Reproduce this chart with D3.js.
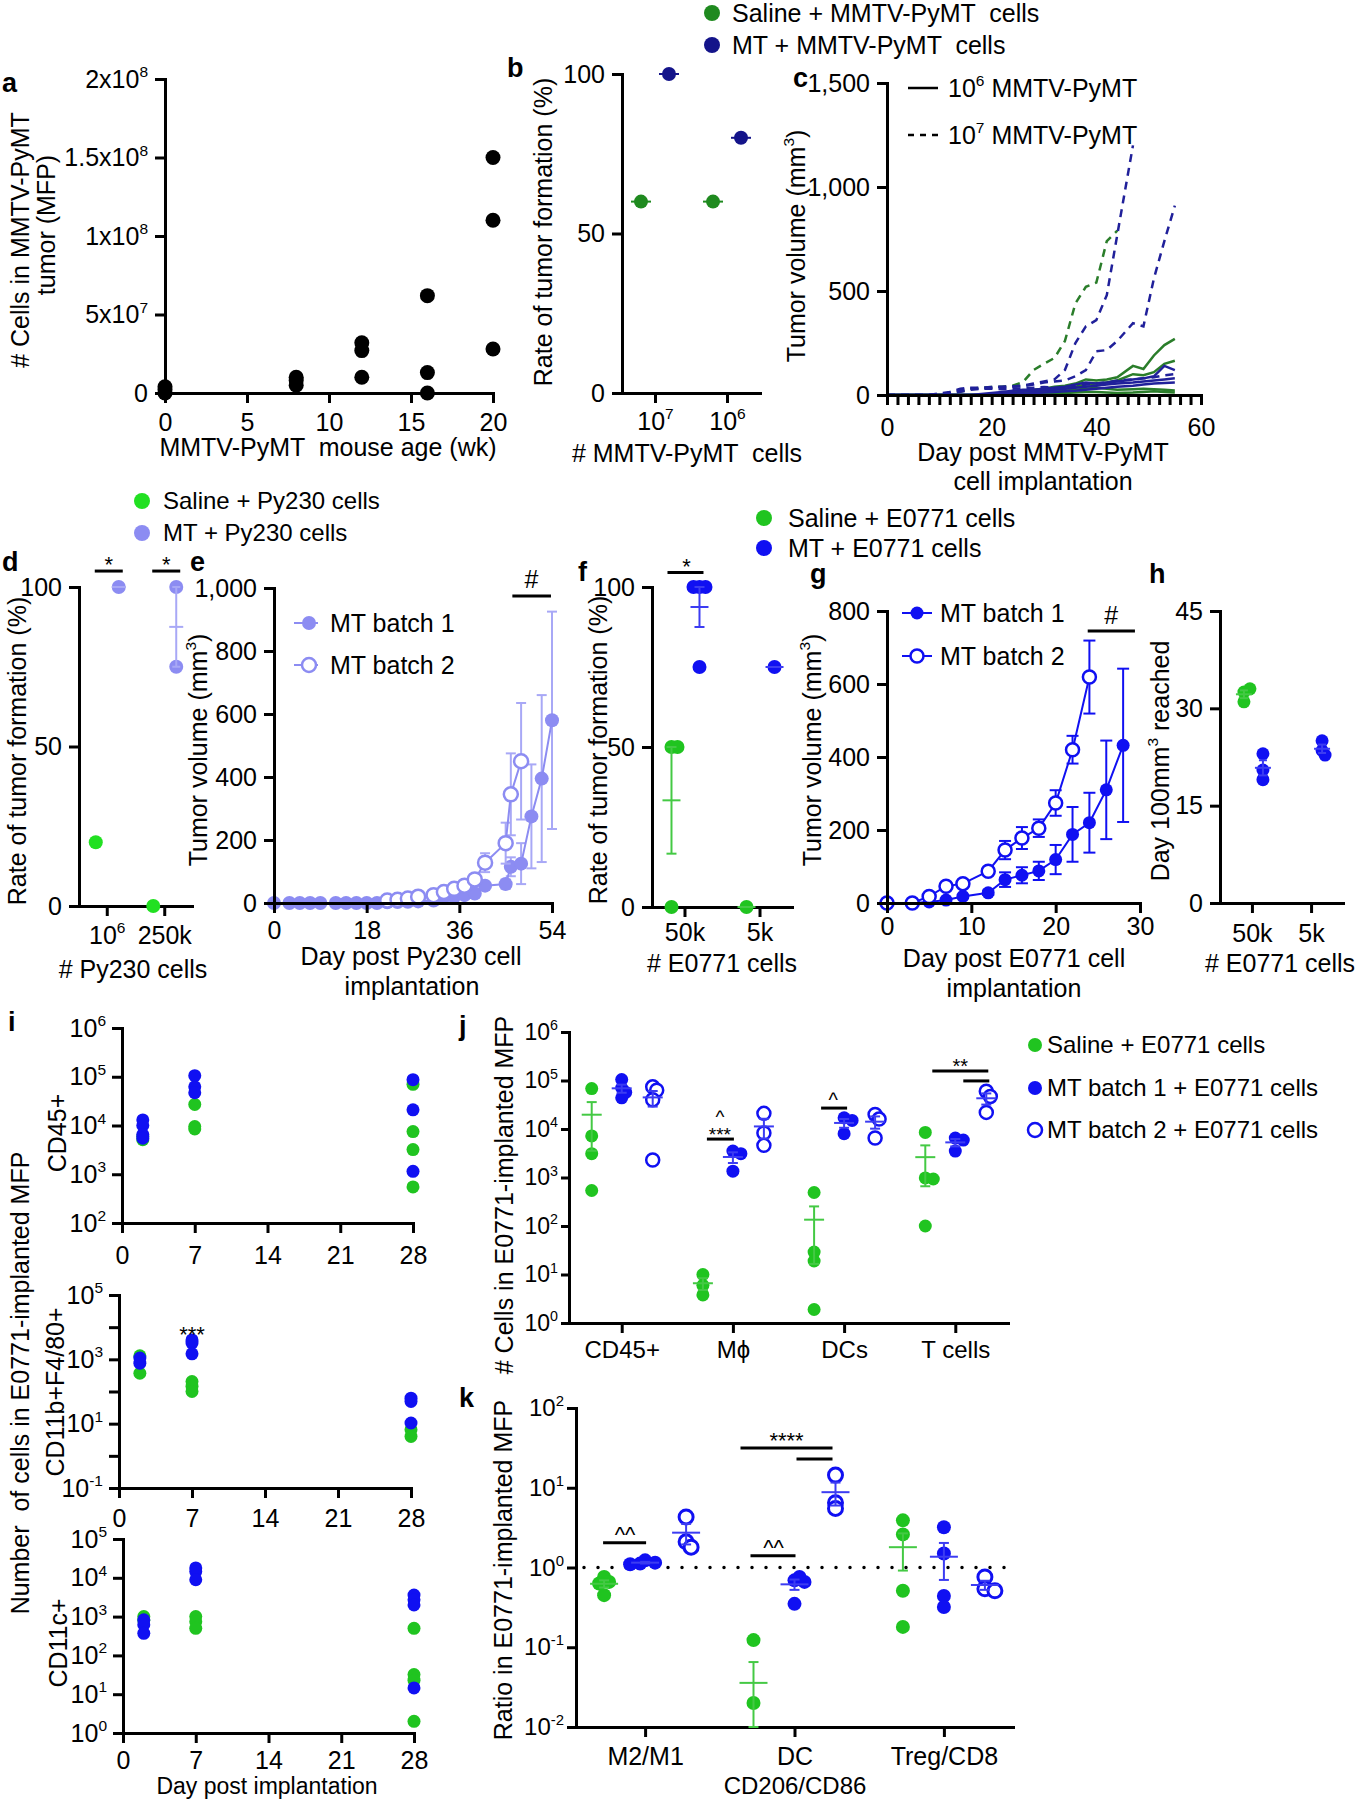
<!DOCTYPE html>
<html><head><meta charset="utf-8">
<script src="https://cdn.jsdelivr.net/npm/d3@7"></script>
<style>body{margin:0;background:#fff;}svg{display:block;}</style>
</head><body>
<svg id="fig" width="1357" height="1800"></svg>
<script>
// ================= DATA =================
// a
const aWeeks = [0,0,0,8,8,8,12,12,12,16,16,16,20,20,20];
const aCells = [0,2e6,4e6,1.0e7,8e6,5e6,3.2e7,2.7e7,1.0e7,6.2e7,1.3e7,0,1.5e8,1.1e8,2.8e7];
const aXTicks = [0,5,10,15,20];
const aYTicks = [0,5e7,1e8,1.5e8,2e8];
const aYTickLabels = ["0","5x10^{7}","1x10^{8}","1.5x10^{8}","2x10^{8}"];
// b
const bCats = ["10^{7}","10^{6}"];
const bSaline = [[60],[60]];
const bMT = [[100],[80]];
// c
const cDays = [0,4,8,12,14,16,18,20,22,24,26,28,30,32,34,36,38,40,42,44,47,49,51,53,55];
const cSaline1e7 = [
 [0,0,0,5,15,30,35,38,40,45,62,120,150,178,260,440,520,540,740,790,null,null,null,null,null]
];
const cMT1e7 = [
 [0,0,0,15,30,35,35,38,40,42,45,55,65,75,120,250,330,360,480,770,1200,null,null,null,null],
 [0,0,0,10,25,30,30,35,38,40,42,50,60,65,70,90,120,210,216,260,345,330,560,740,910],
 [0,0,0,5,15,25,30,30,28,30,32,35,38,35,30,40,50,55,60,70,75,80,85,95,100]
];
const cSaline1e6 = [
 [0,0,0,0,0,0,0,5,10,15,20,25,30,40,45,55,75,70,75,85,140,125,190,240,270],
 [0,0,0,0,0,0,0,0,5,8,10,15,20,25,30,40,50,55,60,70,100,95,110,150,165],
 [0,0,0,0,0,0,0,0,0,5,8,10,12,15,20,25,30,35,30,25,28,30,28,25,22],
 [0,0,0,0,0,0,0,0,0,0,0,5,8,10,10,12,15,15,12,10,12,15,18,15,12]
];
const cMT1e6 = [
 [0,0,0,0,0,0,5,10,15,20,25,25,30,35,40,50,60,55,60,65,75,80,90,140,120],
 [0,0,0,0,0,0,0,5,8,10,15,20,22,25,30,35,40,45,50,55,60,65,70,75,80],
 [0,0,0,0,0,0,0,0,0,0,5,10,12,15,18,20,25,30,35,40,45,50,55,58,60]
];
// d
const dCats = ["10^{6}","250k"];
const dSaline = [[20],[0]];
const dMT = [[100],[100,75]];
// e
const eDays1 = [0,3,5,7,9,12,14,16,18,20,22,24,26,28,31,33,35,37,39,41,45,46,48,50,52,54];
const eVol1  = [0,0,0,0,0,0,0,0,0,0,2,3,4,5,8,20,20,25,30,55,60,115,125,275,395,580];
const eSem1  = [0,0,0,0,0,0,0,0,0,0,1,1,1,2,3,5,5,6,8,12,15,30,65,165,265,345];
const eDays2 = [22,24,26,28,31,33,35,37,39,41,45,46,48];
const eVol2  = [8,10,14,20,25,35,45,55,75,128,190,345,450];
const eSem2  = [3,3,4,5,6,8,10,12,15,30,65,130,185];
// f
const fCats = ["50k","5k"];
const fSaline = [[50,50,0],[0]];
const fMT = [[100,100,100,75],[75]];
// g
const gDays1 = [0,3,5,7,9,12,14,16,18,20,22,24,26,28];
const gVol1  = [0,0,3,8,18,28,64,76,88,119,188,220,310,432];
const gSem1  = [0,0,2,3,4,6,20,22,25,40,75,82,135,210];
const gDays2 = [0,3,5,7,9,12,14,16,18,20,22,24];
const gVol2  = [0,0,18,46,53,87,145,178,205,274,420,619];
const gSem2  = [0,0,5,6,6,8,25,30,24,35,38,100];
// h
const hCats = ["50k","5k"];
const hSaline = [[31,32.5,33],[]];
const hMT = [[23,20.5,19],[25,23.5,22.8]];
// i
const iDays = [2,7,28];
const iCD45Saline = [[5.1e3,6e3],[2.7e4,9.5e3,8.5e3],[7e4,7.5e3,3.2e3,5.5e2]];
const iCD45MT     = [[1.3e4,1.0e4,6.5e3,5.5e3],[1.05e5,6.2e4,4.7e4],[8.7e4,2.1e4,1.15e3]];
const iMacSaline  = [[1290,370],[205,145,100],[6.5,4]];
const iMacMT      = [[1100,760],[4000,3200,1480],[62,49,10.5]];
const iDCSaline   = [[1000,800],[1000,740,500],[500,32,23,2]];
const iDCMT       = [[830,620,370],[1.8e4,1.45e4,8.9e3],[3.6e3,2.7e3,2e3,14.5]];
// j
const jCats = ["CD45+","M\u03D5","DCs","T cells"];
const jSaline = [[6.8e4,7.2e3,3.1e3,5.4e2],[10,6,3.8],[490,29,19,1.9],[8.5e3,980,930,100]];
const jMT1    = [[1.05e5,7e4,5.7e4,4.4e4],[3.5e3,3.1e3,1.35e3],[1.7e4,1.5e4,8e3],[6.5e3,5.9e3,3.5e3]];
const jMT2    = [[7.4e4,6.3e4,4e4,2.3e3],[2.1e4,8.3e3,4.6e3],[2e4,1.6e4,6.5e3],[6e4,4.7e4,2.2e4]];
// k
const kCats = ["M2/M1","DC","Treg/CD8"];
const kSaline = [[0.76,0.66,0.63,0.45],[0.123,0.02,0,0],[3.9,2.6,0.51,0.18]];
const kMT1    = [[1.23,1.15,1.12,1.1],[0.69,0.66,0.76,0.35],[3.2,1.5,0.44,0.32]];
const kMT2    = [[4.3,2.1,1.8],[14.4,6.5,5.5],[0.76,0.54,0.51]];

// ================= LAYOUT / STYLE =================
const FONT = '"Liberation Sans", Arial, Helvetica, sans-serif';
const FS = 25;
const COL = {
  dkGreen:'#1f8a1f', navy:'#14148a', cGreen:'#2a7d2a', cNavy:'#20209a',
  ltGreen:'#22e022', peri:'#8c8cf2', periErr:'#a8a8f6',
  green:'#20c420', blue:'#1010f2', greenErr:'#44c944', blueErr:'#3c3cf2'
};
const LAY = {
 a:{x0:165,x1:493,y0:393,y1:79},
 b:{x0:622,x1:760,y0:393,y1:74,pad:0.458},
 c:{x0:887,x1:1201,y0:395,y1:83},
 d:{x0:79,x1:192,y0:906,y1:587,pad:0.483},
 e:{x0:274,x1:552,y0:903,y1:588},
 f:{x0:652,x1:792,y0:907,y1:587,pad:0.433},
 g:{x0:887,x1:1140,y0:903,y1:611},
 h:{x0:1220,x1:1343,y0:903,y1:611,pad:0.54},
 i1:{x0:122,x1:413,y0:1223,y1:1028},
 i2:{x0:119,x1:411,y0:1488,y1:1295},
 i3:{x0:123,x1:414,y0:1733,y1:1539},
 j:{x0:569,x1:1008,y0:1323,y1:1032,pad:0.474},
 k:{x0:576,x1:1013,y0:1727,y1:1408,pad:0.4625}
};

// ================= HELPERS =================
const svg = d3.select('#fig');
svg.append('rect').attr('width',1357).attr('height',1800).attr('fill','#fff');
const root = svg.append('g').attr('font-family', FONT);

function rich(t, s, size) {
  t.text(null);
  const parts = String(s).split(/(\^\{[^}]*\})/);
  let up = false;
  parts.forEach(p => {
    if (p === '') return;
    const m = p.match(/^\^\{([^}]*)\}$/);
    if (m) { t.append('tspan').attr('dy', -0.42*size).attr('font-size', 0.62*size).text(m[1]); up = true; }
    else { const ts = t.append('tspan').text(p); if (up) { ts.attr('dy', 0.42*size); up = false; } }
  });
}
function txt(g, x, y, s, o = {}) {
  const size = o.size || FS;
  let tr = `translate(${x},${y})`;
  if (o.rot) tr += ` rotate(${o.rot})`;
  const t = g.append('text').attr('transform', tr).attr('font-size', size).attr('font-family', FONT)
    .attr('text-anchor', o.anchor || 'middle').attr('dy', o.dy || '0.35em').attr('fill', o.fill || '#000')
    .style('white-space','pre');
  if (o.bold) t.attr('font-weight', 'bold');
  rich(t, s, size);
  return t;
}
function axisStyle(gg, o) {
  const size = o.size || FS;
  gg.attr('font-size', size).attr('font-family', FONT);
  gg.select('.domain').attr('stroke', '#000').attr('stroke-width', 3).attr('stroke-linecap', 'square');
  gg.selectAll('.tick line').attr('stroke', '#000').attr('stroke-width', 3);
  gg.selectAll('.tick text').attr('fill', '#000').each(function () {
    const t = d3.select(this); const s = t.text(); rich(t, s, size);
  });
}
function leftAxis(g, y, x0, ticks, fmt, o = {}) {
  const ax = d3.axisLeft(y).tickSize(o.tick || 10).tickPadding(o.pad ?? 6).tickSizeOuter(0);
  if (ticks) ax.tickValues(ticks);
  if (fmt) ax.tickFormat(fmt);
  const gg = g.append('g').attr('transform', `translate(${x0},0)`).call(ax);
  axisStyle(gg, o); return gg;
}
function bottomAxis(g, x, y0, ticks, fmt, o = {}) {
  const ax = d3.axisBottom(x).tickSize(o.tick || 10).tickPadding(o.pad ?? 8).tickSizeOuter(0);
  if (ticks) ax.tickValues(ticks);
  if (fmt) ax.tickFormat(fmt);
  const gg = g.append('g').attr('transform', `translate(0,${y0})`).call(ax);
  axisStyle(gg, o); return gg;
}
const logFmt = d => '10^{' + Math.round(Math.log10(d)) + '}';
function decades(a, b) { const r = []; for (let e = a; e <= b; e++) r.push(Math.pow(10, e)); return r; }

function mark(g, cx, cy, color, o) {
  const el = g.append('circle').attr('r', o.r).attr('cx', cx).attr('cy', cy);
  if (o.open) el.attr('fill', '#fff').attr('stroke', color).attr('stroke-width', o.sw || 2.5);
  else el.attr('fill', color);
}
function dodge(vals, y, cx, r, gap) {
  const placed = [];
  const offs = [0]; for (let i = 1; i < 12; i++) offs.push(i * gap, -i * gap);
  return vals.map(v => {
    const py = y(v); let off = 0;
    for (const o of offs) { if (placed.every(p => Math.hypot(p[0] - (cx + o), p[1] - py) >= r * 0.8)) { off = o; break; } }
    placed.push([cx + off, py]); return cx + off;
  });
}
function meanSem(g, cx, vals, y, color, o) {
  const m = d3.mean(vals);
  const s = vals.length > 1 ? d3.deviation(vals) / Math.sqrt(vals.length) : 0;
  const lo = y.domain()[0];
  const hw = o.hw || 9, cw = o.cw || 5, sw = o.esw || 2;
  const ln = (x1, y1, x2, y2) => g.append('line').attr('x1', x1).attr('y1', y1).attr('x2', x2).attr('y2', y2)
    .attr('stroke', color).attr('stroke-width', sw);
  if (s > 0) {
    const yt = y(m + s), yb = y(Math.max(m - s, lo));
    ln(cx, yt, cx, yb); ln(cx - cw, yt, cx + cw, yt); ln(cx - cw, yb, cx + cw, yb);
  }
  ln(cx - hw, y(Math.max(m, lo)), cx + hw, y(Math.max(m, lo)));
}
function groupDots(g, x, y, groups, off, color, o) {
  const cats = x.domain();
  groups.forEach((vals, i) => {
    const cx = x(cats[i]) + off;
    const valid = vals.filter(v => !(o.log && v <= 0));
    const xs = o.noDodge ? valid.map(() => cx) : dodge(valid, y, cx, o.r, o.gap || 3);
    valid.forEach((v, k) => mark(g, xs[k], y(v), color, o));
    if (o.mean && vals.length) meanSem(g, cx, vals, y, o.errColor || color, o);
  });
}
function timeSeries(g, x, y, days, vals, sems, color, errColor, o) {
  days.forEach((d, i) => {
    if (sems[i] > 0) {
      const cx = x(d), yt = y(vals[i] + sems[i]), yb = y(Math.max(vals[i] - sems[i], 0)), cw = o.cw || 5;
      [[cx, yt, cx, yb], [cx - cw, yt, cx + cw, yt], [cx - cw, yb, cx + cw, yb]].forEach(l =>
        g.append('line').attr('x1', l[0]).attr('y1', l[1]).attr('x2', l[2]).attr('y2', l[3]).attr('stroke', errColor).attr('stroke-width', 2));
    }
  });
  g.append('path').datum(days.map((d, i) => [d, vals[i]]))
    .attr('d', d3.line().x(p => x(p[0])).y(p => y(p[1])))
    .attr('fill', 'none').attr('stroke', color).attr('stroke-width', 2);
  days.forEach((d, i) => mark(g, x(d), y(vals[i]), color, o));
}
function hline(g, x1, x2, y, sw, color) {
  return g.append('line').attr('x1', x1).attr('x2', x2).attr('y1', y).attr('y2', y).attr('stroke', color || '#000').attr('stroke-width', sw || 3);
}
function letter(x, y, s) { txt(root, x, y, s, { size: 27, bold: true, anchor: 'start' }); }

// ================= PANEL a =================
{
  const L = LAY.a, g = root.append('g');
  const x = d3.scaleLinear().domain([0, 20]).range([L.x0, L.x1]);
  const y = d3.scaleLinear().domain([0, 2e8]).range([L.y0, L.y1]);
  leftAxis(g, y, L.x0, aYTicks, (d, i) => aYTickLabels[i], { pad: 7 });
  bottomAxis(g, x, L.y0, aXTicks, d => String(d), { pad: 10.5 });
  aWeeks.forEach((w, i) => mark(g, x(w), y(aCells[i]), '#000', { r: 7.5 }));
  letter(2, 83, 'a');
  txt(g, 20, 240, '# Cells in MMTV-PyMT', { rot: -90 });
  txt(g, 46, 225, 'tumor (MFP)', { rot: -90 });
  txt(g, 328, 447, 'MMTV-PyMT  mouse age (wk)');
}
// ================= PANEL b =================
{
  const L = LAY.b, g = root.append('g');
  const x = d3.scalePoint().domain(bCats).range([L.x0, L.x1]).padding(L.pad);
  const y = d3.scaleLinear().domain([0, 100]).range([L.y0, L.y1]);
  leftAxis(g, y, L.x0, [0, 50, 100], null, { pad: 7 });
  bottomAxis(g, x, L.y0, null, null, { pad: 9 });
  groupDots(g, x, y, bSaline, -14, COL.dkGreen, { r: 7, mean: true, hw: 10 });
  groupDots(g, x, y, bMT, 14, COL.navy, { r: 7, mean: true, hw: 10 });
  letter(507, 68, 'b');
  txt(g, 543, 232, 'Rate of tumor formation (%)', { rot: -90 });
  txt(g, 687, 453, '# MMTV-PyMT  cells');
  mark(g, 712, 13, COL.dkGreen, { r: 8 });
  txt(g, 732, 13, 'Saline + MMTV-PyMT  cells', { anchor: 'start' });
  mark(g, 712, 45, COL.navy, { r: 8 });
  txt(g, 732, 45, 'MT + MMTV-PyMT  cells', { anchor: 'start' });
}
// ================= PANEL c =================
{
  const L = LAY.c, g = root.append('g');
  const x = d3.scaleLinear().domain([0, 60]).range([L.x0, L.x1]);
  const y = d3.scaleLinear().domain([0, 1500]).range([L.y0, L.y1]);
  const line = d3.line().defined(p => p[1] != null).x(p => x(p[0])).y(p => y(p[1]));
  const draw = (series, color, dash) => series.forEach(vals => {
    g.append('path').datum(cDays.map((d, i) => [d, vals[i]])).attr('d', line)
      .attr('fill', 'none').attr('stroke', color).attr('stroke-width', 2.5).attr('stroke-dasharray', dash);
  });
  draw(cSaline1e6, COL.cGreen, null);
  draw(cMT1e6, COL.cNavy, null);
  draw(cSaline1e7, COL.cGreen, '8,6');
  draw(cMT1e7, COL.cNavy, '8,6');
  leftAxis(g, y, L.x0, [0, 500, 1000, 1500], d3.format(','), { pad: 7 });
  bottomAxis(g, x, L.y0, d3.range(0, 61, 2), d => d % 20 === 0 ? String(d) : '', { pad: 13 });
  letter(793, 78, 'c');
  txt(g, 796, 246, 'Tumor volume (mm^{3})', { rot: -90 });
  txt(g, 1043, 452, 'Day post MMTV-PyMT');
  txt(g, 1043, 481, 'cell implantation');
  hline(g, 908, 938, 88, 2.5, '#000');
  txt(g, 948, 88, '10^{6} MMTV-PyMT', { anchor: 'start' });
  hline(g, 908, 938, 135, 2.5, '#000').attr('stroke-dasharray', '6,6');
  txt(g, 948, 135, '10^{7} MMTV-PyMT', { anchor: 'start' });
}
// ================= PANEL d =================
{
  const L = LAY.d, g = root.append('g');
  const x = d3.scalePoint().domain(dCats).range([L.x0, L.x1]).padding(L.pad);
  const y = d3.scaleLinear().domain([0, 100]).range([L.y0, L.y1]);
  leftAxis(g, y, L.x0, [0, 50, 100], null, { pad: 7 });
  bottomAxis(g, x, L.y0, null, null, { pad: 10 });
  groupDots(g, x, y, dSaline, -11, COL.ltGreen, { r: 7 });
  groupDots(g, x, y, dMT, 12, COL.peri, { r: 7, mean: true, hw: 7, cw: 4, errColor: COL.periErr });
  dCats.forEach(c => {
    hline(g, x(c) - 12, x(c) + 16, y(105), 3);
    txt(g, x(c) + 2, y(105) - 12, '*', { size: 22, dy: '0.6em' });
  });
  letter(2, 562, 'd');
  txt(g, 17, 751, 'Rate of tumor formation (%)', { rot: -90 });
  txt(g, 133, 969, '# Py230 cells');
  mark(g, 142, 501, COL.ltGreen, { r: 8 });
  txt(g, 163, 501, 'Saline + Py230 cells', { anchor: 'start', size: 24 });
  mark(g, 142, 533, COL.peri, { r: 8 });
  txt(g, 163, 533, 'MT + Py230 cells', { anchor: 'start', size: 24 });
}
// ================= PANEL e =================
{
  const L = LAY.e, g = root.append('g');
  const x = d3.scaleLinear().domain([0, 54]).range([L.x0, L.x1]);
  const y = d3.scaleLinear().domain([0, 1000]).range([L.y0, L.y1]);
  timeSeries(g, x, y, eDays1, eVol1, eSem1, COL.peri, COL.periErr, { r: 7, cw: 5 });
  timeSeries(g, x, y, eDays2, eVol2, eSem2, COL.peri, COL.periErr, { r: 7, cw: 5, open: true, sw: 2.5 });
  leftAxis(g, y, L.x0, [0, 200, 400, 600, 800, 1000], d3.format(','), { pad: 7 });
  bottomAxis(g, x, L.y0, [0, 18, 36, 54], d => String(d), { pad: 8 });
  hline(g, x(46.3), x(53.8), y(975), 3);
  txt(g, x(50), y(975) - 17, '#');
  letter(190, 562, 'e');
  txt(g, 198, 750, 'Tumor volume (mm^{3})', { rot: -90 });
  txt(g, 411, 956, 'Day post Py230 cell');
  txt(g, 412, 986, 'implantation');
  hline(g, 294, 318, 623, 2, COL.peri); mark(g, 309, 623, COL.peri, { r: 7 });
  txt(g, 330, 623, 'MT batch 1', { anchor: 'start' });
  hline(g, 294, 318, 665, 2, COL.peri); mark(g, 309, 665, COL.peri, { r: 7, open: true });
  txt(g, 330, 665, 'MT batch 2', { anchor: 'start' });
}
// ================= PANEL f =================
{
  const L = LAY.f, g = root.append('g');
  const x = d3.scalePoint().domain(fCats).range([L.x0, L.x1]).padding(L.pad);
  const y = d3.scaleLinear().domain([0, 100]).range([L.y0, L.y1]);
  leftAxis(g, y, L.x0, [0, 50, 100], null, { pad: 7 });
  bottomAxis(g, x, L.y0, null, null, { pad: 6 });
  groupDots(g, x, y, fSaline, -13, COL.green, { r: 7, mean: true, hw: 9, cw: 5, errColor: COL.greenErr });
  groupDots(g, x, y, fMT, 15, COL.blue, { r: 7, mean: true, hw: 9, cw: 5, errColor: COL.blueErr });
  hline(g, x('50k') - 17, x('50k') + 19, y(104.5), 3);
  txt(g, x('50k') + 2, y(104.5) - 12, '*', { size: 22, dy: '0.6em' });
  letter(578, 572, 'f');
  txt(g, 598, 750, 'Rate of tumor formation (%)', { rot: -90 });
  txt(g, 722, 963, '# E0771 cells');
  mark(g, 764, 518, COL.green, { r: 8 });
  txt(g, 788, 518, 'Saline + E0771 cells', { anchor: 'start' });
  mark(g, 764, 548, COL.blue, { r: 8 });
  txt(g, 788, 548, 'MT + E0771 cells', { anchor: 'start' });
}
// ================= PANEL g =================
{
  const L = LAY.g, g = root.append('g');
  const x = d3.scaleLinear().domain([0, 30]).range([L.x0, L.x1]);
  const y = d3.scaleLinear().domain([0, 800]).range([L.y0, L.y1]);
  timeSeries(g, x, y, gDays1, gVol1, gSem1, COL.blue, COL.blue, { r: 6.5, cw: 6 });
  timeSeries(g, x, y, gDays2, gVol2, gSem2, COL.blue, COL.blue, { r: 6.5, cw: 6, open: true, sw: 2.5 });
  leftAxis(g, y, L.x0, [0, 200, 400, 600, 800], null, { pad: 7 });
  bottomAxis(g, x, L.y0, [0, 10, 20, 30], d => String(d), { pad: 4 });
  hline(g, x(23.8), x(29.4), y(745), 3);
  txt(g, x(26.6), y(745) - 16, '#');
  letter(810, 574, 'g');
  txt(g, 812, 750, 'Tumor volume (mm^{3})', { rot: -90 });
  txt(g, 1014, 958, 'Day post E0771 cell');
  txt(g, 1014, 988, 'implantation');
  hline(g, 902, 932, 613, 2, COL.blue); mark(g, 917, 613, COL.blue, { r: 6.5 });
  txt(g, 940, 613, 'MT batch 1', { anchor: 'start' });
  hline(g, 902, 932, 656, 2, COL.blue); mark(g, 917, 656, COL.blue, { r: 6.5, open: true });
  txt(g, 940, 656, 'MT batch 2', { anchor: 'start' });
}
// ================= PANEL h =================
{
  const L = LAY.h, g = root.append('g');
  const x = d3.scalePoint().domain(hCats).range([L.x0, L.x1]).padding(L.pad);
  const y = d3.scaleLinear().domain([0, 45]).range([L.y0, L.y1]);
  leftAxis(g, y, L.x0, [0, 15, 30, 45], null, { pad: 7 });
  bottomAxis(g, x, L.y0, null, null, { pad: 11 });
  groupDots(g, x, y, hSaline, -8, COL.green, { r: 6.5, mean: true, hw: 8, cw: 4, errColor: COL.greenErr });
  groupDots(g, x, y, hMT, 11, COL.blue, { r: 6.5, mean: true, hw: 8, cw: 4, errColor: COL.blueErr });
  letter(1149, 574, 'h');
  txt(g, 1160, 761, 'Day 100mm^{3} reached', { rot: -90 });
  txt(g, 1280, 963, '# E0771 cells');
}
// ================= PANEL i =================
{
  const g = root.append('g');
  const sub = (L, lo, hi, labelEvery, sal, mt) => {
    const x = d3.scaleLinear().domain([0, 28]).range([L.x0, L.x1]);
    const y = d3.scaleLog().domain([Math.pow(10, lo), Math.pow(10, hi)]).range([L.y0, L.y1]);
    leftAxis(g, y, L.x0, decades(lo, hi), d => {
      const e = Math.round(Math.log10(d));
      return ((e - lo) % labelEvery === 0) ? logFmt(d) : '';
    }, { pad: 6 });
    bottomAxis(g, x, L.y0, [0, 7, 14, 21, 28], d => String(d), { pad: L.pad });
    sal.forEach((vals, k) => vals.forEach(v => mark(g, x(iDays[k]), y(v), COL.green, { r: 6.5 })));
    mt.forEach((vals, k) => vals.forEach(v => mark(g, x(iDays[k]), y(v), COL.blue, { r: 6.5 })));
    return { x, y };
  };
  sub(Object.assign({ pad: 13 }, LAY.i1), 2, 6, 1, iCD45Saline, iCD45MT);
  const s2 = sub(Object.assign({ pad: 11 }, LAY.i2), -1, 5, 2, iMacSaline, iMacMT);
  sub(Object.assign({ pad: 8 }, LAY.i3), 0, 5, 1, iDCSaline, iDCMT);
  txt(g, s2.x(7), 1329, '***', { size: 22, dy: '0.6em' });
  letter(8, 1022, 'i');
  txt(g, 20, 1383, 'Number  of cells in E0771-implanted MFP', { rot: -90 });
  txt(g, 57, 1133, 'CD45+', { rot: -90 });
  txt(g, 55, 1392, 'CD11b+F4/80+', { rot: -90 });
  txt(g, 58, 1643, 'CD11c+', { rot: -90 });
  txt(g, 267, 1786, 'Day post implantation', { size: 23 });
}
// ================= PANEL j =================
{
  const L = LAY.j, g = root.append('g');
  const x = d3.scalePoint().domain(jCats).range([L.x0, L.x1]).padding(L.pad);
  const y = d3.scaleLog().domain([1, 1e6]).range([L.y0, L.y1]);
  leftAxis(g, y, L.x0, decades(0, 6), logFmt, { size: 23, pad: 3, tick: 8 });
  bottomAxis(g, x, L.y0, null, null, { size: 24, pad: 8 });
  const base = { r: 6.5, mean: true, hw: 10, cw: 5, log: true, gap: 4 };
  groupDots(g, x, y, jSaline, -30, COL.green, Object.assign({ errColor: COL.greenErr }, base));
  groupDots(g, x, y, jMT1, 0, COL.blue, Object.assign({ errColor: COL.blueErr }, base));
  groupDots(g, x, y, jMT2, 31, COL.blue, Object.assign({ errColor: COL.blueErr, open: true, sw: 2.5 }, base));
  const xm = x('M\u03D5'), xd = x('DCs'), xt = x('T cells');
  hline(g, xm - 26, xm + 1, y(6.2e3), 3);
  txt(g, xm - 13, y(6.2e3) - 9, '***', { size: 19, dy: '0.6em' });
  txt(g, xm - 13, y(6.2e3) - 27, '^', { size: 19, dy: '0.55em' });
  hline(g, xd - 23, xd + 3, y(2.7e4), 3);
  txt(g, xd - 11, y(2.7e4) - 12, '^', { size: 20, dy: '0.55em' });
  hline(g, xt - 23, xt + 33, y(1.57e5), 3);
  hline(g, xt + 8, xt + 34, y(9.8e4), 3);
  txt(g, xt + 5, y(1.57e5) - 10, '**', { size: 20, dy: '0.6em' });
  letter(459, 1026, 'j');
  txt(g, 504, 1195, '# Cells in E0771-implanted MFP', { rot: -90 });
  const lg = [['Saline + E0771 cells', COL.green, false, 1045], ['MT batch 1 + E0771 cells', COL.blue, false, 1088], ['MT batch 2 + E0771 cells', COL.blue, true, 1130]];
  lg.forEach(([s, c, open, yy]) => {
    mark(g, 1035, yy, c, { r: 7, open, sw: 2.5 });
    txt(g, 1047, yy, s, { anchor: 'start', size: 24 });
  });
}
// ================= PANEL k =================
{
  const L = LAY.k, g = root.append('g');
  const x = d3.scalePoint().domain(kCats).range([L.x0, L.x1]).padding(L.pad);
  const y = d3.scaleLog().domain([0.01, 100]).range([L.y0, L.y1]).clamp(true);
  g.append('line').attr('x1', L.x0 + 8).attr('x2', L.x1 - 5).attr('y1', y(1)).attr('y2', y(1))
    .attr('stroke', '#000').attr('stroke-width', 3.5).attr('stroke-linecap', 'round').attr('stroke-dasharray', '0,14');
  leftAxis(g, y, L.x0, decades(-2, 2), logFmt, { size: 24, pad: 3, tick: 9 });
  bottomAxis(g, x, L.y0, null, null, { size: 25, pad: 10 });
  const base = { r: 7, mean: true, hw: 14, cw: 5, log: true, gap: 5 };
  groupDots(g, x, y, kSaline, -41, COL.green, Object.assign({ errColor: COL.greenErr }, base));
  groupDots(g, x, y, kMT1, 0, COL.blue, Object.assign({ errColor: COL.blueErr }, base));
  groupDots(g, x, y, kMT2, 41, COL.blue, Object.assign({ errColor: COL.blueErr, open: true, sw: 3, r: 8 }, base));
  const xa = x('M2/M1'), xb = x('DC');
  hline(g, xa - 42, xa + 1, y(2.04), 3);
  txt(g, xa - 20, y(2.04) - 13, '^^', { size: 22, dy: '0.55em' });
  hline(g, xb - 44, xb + 1, y(1.4), 3);
  txt(g, xb - 21, y(1.4) - 13, '^^', { size: 22, dy: '0.55em' });
  hline(g, xb - 54, xb + 38, y(31.6), 3);
  hline(g, xb + 2, xb + 38, y(23), 3);
  txt(g, xb - 8, y(31.6) - 13, '****', { size: 22, dy: '0.6em' });
  letter(459, 1398, 'k');
  txt(g, 503, 1570, 'Ratio in E0771-implanted MFP', { rot: -90 });
  txt(g, 795, 1786, 'CD206/CD86', { size: 24 });
}
</script>
</body></html>
